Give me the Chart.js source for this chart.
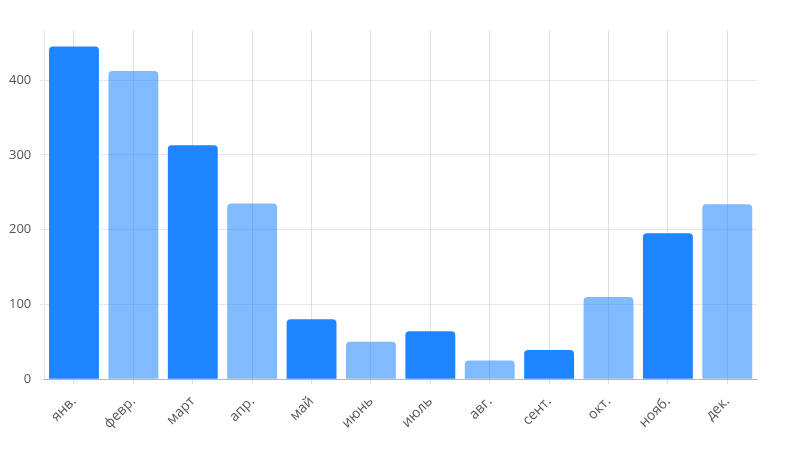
<!DOCTYPE html>
<html>
<head>
<meta charset="utf-8">
<script src="https://cdn.jsdelivr.net/npm/chart.js@4"></script>
<style>
  html, body { margin: 0; padding: 0; background: #fff; }
  #wrap { width: 800px; height: 453px; }
</style>
</head>
<body>
<div id="wrap"><canvas id="chart"></canvas></div>
<script>
// months (ru, short)
const months = ['янв.', 'февр.', 'март', 'апр.', 'май', 'июнь', 'июль', 'авг.', 'сент.', 'окт.', 'нояб.', 'дек.'];
const values = [445, 412, 313, 235, 80, 50, 64, 25, 39, 110, 195, 234];
const yTicks = [0, 100, 200, 300, 400];

const dark = 'rgb(30, 132, 255)';
const light = 'rgba(30, 132, 255, 0.56)';

const ctx = document.getElementById('chart').getContext('2d');
new Chart(ctx, {
  type: 'bar',
  data: {
    labels: months,
    datasets: [
      {
        data: values,
        backgroundColor: values.map((v, i) => (i % 2 === 0 ? dark : light)),
        borderRadius: 4,
        borderSkipped: 'start',
        categoryPercentage: 1,
        barPercentage: 0.84,
      },
    ],
  },
  options: {
    responsive: true,
    maintainAspectRatio: false,
    animation: false,
    layout: { padding: { top: 30, right: 43, left: 1, bottom: 12 } },
    plugins: { legend: { display: false }, tooltip: { enabled: false } },
    scales: {
      x: {
        offset: true,
        grid: { offset: false, color: 'rgba(0,0,0,0.12)', tickLength: 5 },
        border: { color: 'rgba(0,0,0,0.22)' },
        ticks: {
          color: '#555',
          font: { family: 'Open Sans', size: 14 },
          maxRotation: 45,
          minRotation: 45,
          padding: 9,
        },
      },
      y: {
        min: 0,
        max: 467,
        grid: { color: 'rgba(0,0,0,0.09)', tickLength: 5 },
        border: { color: 'rgba(0,0,0,0.1)' },
        afterBuildTicks: (axis) => {
          axis.ticks = yTicks.map((v) => ({ value: v }));
        },
        ticks: {
          color: '#555',
          font: { family: 'Open Sans', size: 13 },
          padding: 8,
        },
      },
    },
  },
});
</script>
</body>
</html>
